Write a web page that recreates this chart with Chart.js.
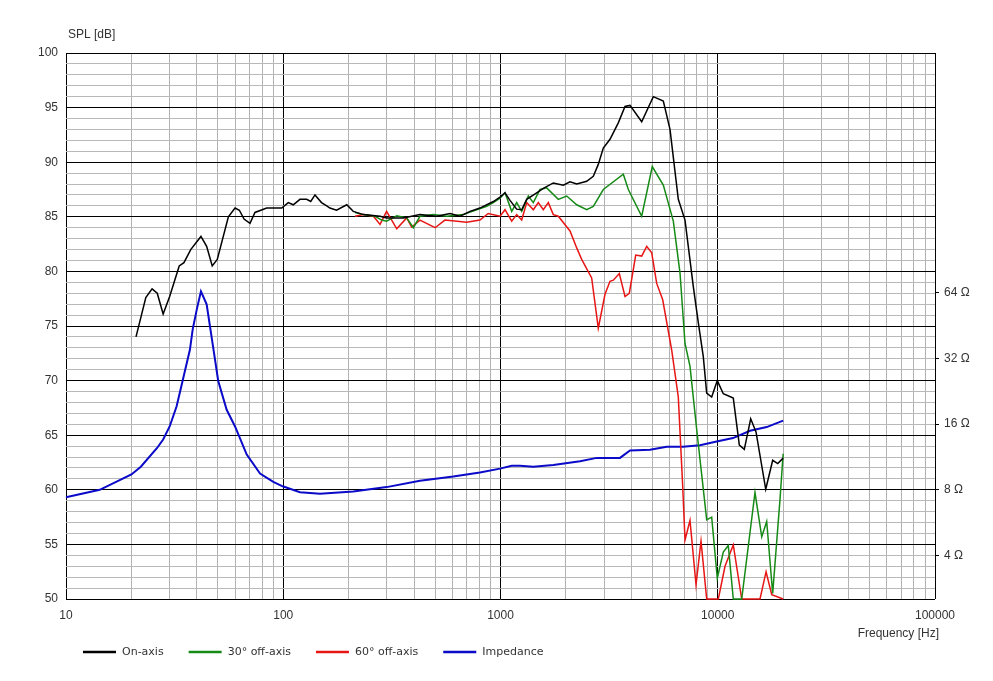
<!DOCTYPE html>
<html>
<head>
<meta charset="utf-8">
<script src="https://cdn.jsdelivr.net/npm/chart.js@4.4.1/dist/chart.umd.min.js"></script>
<style>
  html, body { margin: 0; background: #fff; }
  #wrap { width: 993px; height: 681px; position: relative; }
</style>
</head>
<body>
<div id="wrap"><canvas id="c"></canvas></div>
<script>
// SPL curves, frequency in Hz and level in dB
const onAxisFreq = [21, 23.3, 24.9, 26.3, 28, 30, 33.2, 34.9, 37.5, 41.8, 44.4, 47.1, 49.7, 55.9, 60, 62.8, 66, 70.3, 74.1, 83.9, 98.4, 105.5, 111.2, 119.4, 128.2, 133.8, 140, 150, 158.5, 164, 176, 196, 210, 234, 279, 299, 357, 426, 508, 586, 651, 724, 804, 927, 995, 1049, 1106, 1187, 1252, 1320, 1467, 1574, 1750, 1946, 2089, 2243, 2493, 2674, 2819, 2973, 3192, 3485, 3742, 3946, 4466, 5051, 5616, 6029, 6583, 7068, 7718, 8137, 8579, 8894, 9378, 9952, 10605, 11790, 12570, 13250, 14180, 15000, 16630, 17900, 18880, 20000];
const onAxisDb = [74.0, 77.6, 78.4, 78.0, 76.1, 77.7, 80.5, 80.8, 82.0, 83.2, 82.3, 80.5, 81.1, 85.0, 85.8, 85.6, 84.8, 84.4, 85.4, 85.8, 85.8, 86.3, 86.1, 86.6, 86.6, 86.4, 87.0, 86.3, 86.0, 85.8, 85.6, 86.1, 85.5, 85.2, 85.05, 84.9, 84.9, 85.2, 85.05, 85.3, 85.05, 85.5, 85.8, 86.4, 86.8, 87.2, 86.5, 85.7, 85.65, 86.6, 87.2, 87.6, 88.1, 87.9, 88.2, 88.0, 88.25, 88.7, 89.8, 91.3, 92.1, 93.6, 95.1, 95.2, 93.7, 96.0, 95.6, 93.0, 86.6, 84.7, 78.6, 75.3, 72.2, 68.85, 68.5, 70.0, 68.8, 68.4, 64.1, 63.7, 66.5, 65.3, 60.05, 62.7, 62.4, 62.9];

const off30Freq = [214, 234, 264.5, 284, 299, 333, 370, 397, 426, 491, 566, 674, 777, 864, 927, 995, 1049, 1126, 1187, 1252, 1343, 1416, 1520, 1632, 1845, 2017, 2243, 2493, 2674, 2973, 3676, 3876, 4466, 4995, 5616, 6244, 6704, 7068, 7452, 8002, 8894, 9378, 9952, 10605, 11180, 11790, 12890, 14840, 15940, 16800, 17900, 19340, 20000];
const off30Db = [85.4, 85.2, 85.05, 84.7, 84.6, 85.1, 84.9, 84.0, 85.05, 85.2, 85.05, 85.2, 85.65, 85.96, 86.3, 86.7, 87.2, 85.5, 86.3, 85.5, 86.9, 86.3, 87.5, 87.65, 86.6, 86.9, 86.1, 85.65, 85.96, 87.5, 88.9, 87.5, 85.05, 89.6, 87.9, 84.6, 79.85, 73.4, 71.3, 65.5, 57.25, 57.5, 51.9, 54.3, 54.9, 50, 50, 59.75, 55.7, 57.1, 50.5, 59.1, 63.3];

const off60Freq = [214, 234, 260, 279, 299, 333, 370, 390, 426, 500, 555, 699, 804, 878, 995, 1049, 1126, 1187, 1252, 1320, 1416, 1493, 1574, 1660, 1750, 1845, 2089, 2243, 2364, 2628, 2819, 3027, 3192, 3306, 3523, 3742, 3917, 4192, 4466, 4710, 4966, 5236, 5580, 6138, 6583, 6898, 7068, 7452, 7943, 8374, 8894, 10060, 10800, 11790, 12890, 15650, 16690, 17720, 20000];
const off60Db = [85.05, 85.2, 85.05, 84.3, 85.5, 83.9, 84.9, 84.05, 84.7, 84.0, 84.7, 84.5, 84.7, 85.3, 85.05, 85.65, 84.6, 85.2, 84.7, 86.3, 85.65, 86.3, 85.65, 86.3, 85.2, 85.05, 83.7, 82.15, 81.1, 79.4, 74.8, 77.9, 79.1, 79.2, 79.8, 77.7, 78.0, 81.5, 81.4, 82.3, 81.7, 78.9, 77.4, 72.8, 68.5, 60.3, 55.4, 57.2, 51.3, 55.3, 50, 50, 53, 54.95, 50, 50, 52.5, 50.4, 50];

// impedance curve, ohms (right axis)
const impFreq = [10, 14.3, 20, 22.1, 26.2, 28, 30, 32.3, 34.4, 37.2, 38.3, 40, 41.8, 44.4, 47.6, 50.2, 54.9, 60, 67.9, 78.2, 90, 99.4, 119.4, 147.6, 210, 299, 426, 606, 804, 995, 1126, 1229, 1416, 1750, 2323, 2773, 3548, 3946, 4877, 5821, 6918, 8279, 9886, 11755, 14080, 16800, 20000];
const impOhm = [7.4, 8.0, 9.4, 10.2, 12.4, 13.6, 15.6, 19.3, 25.2, 35.1, 43.4, 53.6, 64.8, 56.5, 35.8, 25.2, 18.6, 15.6, 11.6, 9.5, 8.7, 8.3, 7.8, 7.67, 7.85, 8.23, 8.8, 9.2, 9.6, 10.0, 10.3, 10.3, 10.2, 10.4, 10.8, 11.2, 11.2, 12.1, 12.2, 12.6, 12.6, 12.8, 13.3, 13.8, 14.9, 15.5, 16.6];

// axes
const decades = [10, 100, 1000, 10000, 100000];
const ohmTicks = [4, 8, 16, 32, 64];
const splMin = 50, splMax = 100;

const toPoints = (xs, ys) => xs.map((x, i) => ({x: x, y: ys[i]}));

const xTicks = [];
decades.forEach((d, i) => {
    if (i === decades.length - 1) { xTicks.push(d); return; }
    for (let m = 1; m < 10; m++) xTicks.push(d * m);
});
const yTicks = [];
for (let v = splMin; v <= splMax; v++) yTicks.push(v);

const isDecade = v => decades.indexOf(Math.round(v)) !== -1;
const tickFont = {family: '"Liberation Sans", Arial, sans-serif', size: 12};

// axis titles + legend drawn by hand (legend isn't centred in the original)
const extras = {
    id: 'extras',
    afterDraw(chart) {
        const ctx = chart.ctx, a = chart.chartArea;
        ctx.save();
        ctx.fillStyle = '#333';
        ctx.textBaseline = 'middle';
        ctx.font = '12px "Liberation Sans", Arial, sans-serif';
        ctx.textAlign = 'left';
        ctx.fillText('SPL [dB]', a.left + 2, 35);
        ctx.textAlign = 'right';
        ctx.fillText('Frequency [Hz]', a.right + 4, 634);

        ctx.font = '11px "DejaVu Sans", Verdana, sans-serif';
        ctx.textAlign = 'left';
        let x = 83;
        const y = 652;
        chart.data.datasets.forEach(ds => {
            ctx.strokeStyle = ds.borderColor;
            ctx.lineWidth = 2.5;
            ctx.beginPath();
            ctx.moveTo(x, y);
            ctx.lineTo(x + 33, y);
            ctx.stroke();
            ctx.fillText(ds.label, x + 39, y);
            x += 39 + ctx.measureText(ds.label).width + 25;
        });
        ctx.restore();
    }
};

new Chart(document.getElementById('c'), {
    type: 'line',
    data: {
        datasets: [
            {label: 'On-axis', data: toPoints(onAxisFreq, onAxisDb), borderColor: '#000000', borderWidth: 1.5, yAxisID: 'y'},
            {label: '30° off-axis', data: toPoints(off30Freq, off30Db), borderColor: '#168a16', borderWidth: 1.5, yAxisID: 'y'},
            {label: '60° off-axis', data: toPoints(off60Freq, off60Db), borderColor: '#e81515', borderWidth: 1.5, yAxisID: 'y'},
            {label: 'Impedance', data: toPoints(impFreq, impOhm), borderColor: '#0a0ac8', borderWidth: 2, yAxisID: 'z'}
        ]
    },
    options: {
        responsive: true,
        maintainAspectRatio: false,
        animation: false,
        devicePixelRatio: 1,
        layout: {padding: {top: 53, left: 0, right: 0, bottom: 0}},
        elements: {
            point: {radius: 0},
            line: {tension: 0, fill: false}
        },
        datasets: {line: {clip: 2}},
        plugins: {
            legend: {display: false},
            title: {display: false},
            tooltip: {enabled: false}
        },
        scales: {
            x: {
                type: 'logarithmic',
                min: 10,
                max: 100000,
                afterFit: s => { s.height = 82; },
                afterBuildTicks: s => { s.ticks = xTicks.map(v => ({value: v})); },
                border: {display: false},
                grid: {
                    color: c => isDecade(c.tick.value) ? '#000000' : '#b2b2b2',
                    lineWidth: 1,
                    drawTicks: false
                },
                ticks: {
                    autoSkip: false,
                    maxRotation: 0,
                    padding: 9,
                    color: '#333',
                    font: tickFont,
                    callback: v => isDecade(v) ? String(Math.round(v)) : ''
                }
            },
            y: {
                type: 'linear',
                position: 'left',
                min: splMin,
                max: splMax,
                afterFit: s => { s.width = 66; },
                afterBuildTicks: s => { s.ticks = yTicks.map(v => ({value: v})); },
                border: {display: false},
                grid: {
                    color: c => c.tick.value % 5 === 0 ? '#000000' : '#b8b8b8',
                    lineWidth: 1,
                    drawTicks: false
                },
                ticks: {
                    autoSkip: false,
                    padding: 8,
                    color: '#333',
                    font: tickFont,
                    callback: v => v % 5 === 0 ? String(v) : ''
                }
            },
            z: {
                type: 'logarithmic',
                position: 'right',
                // 8 Ω sits on 60 dB, one doubling = 6 dB
                min: 8 / Math.sqrt(10),
                max: 800,
                afterFit: s => { s.width = 58; },
                afterBuildTicks: s => { s.ticks = ohmTicks.map(v => ({value: v})); },
                border: {display: false},
                grid: {drawOnChartArea: false, drawTicks: true, tickLength: 4, color: '#000000'},
                ticks: {
                    autoSkip: false,
                    padding: 5,
                    color: '#333',
                    font: tickFont,
                    callback: v => v + ' Ω'
                }
            }
        }
    },
    plugins: [extras]
});
</script>
</body>
</html>
